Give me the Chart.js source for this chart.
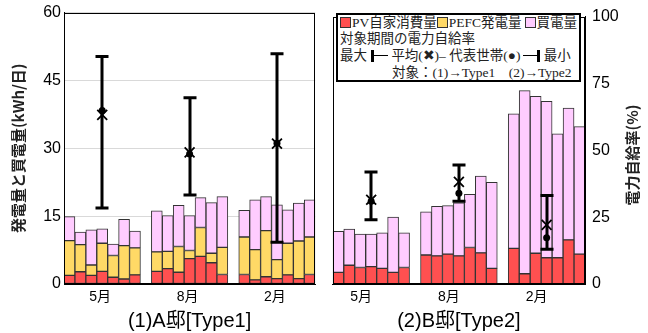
<!DOCTYPE html>
<html>
<head>
<meta charset="utf-8">
<script src="https://cdn.jsdelivr.net/npm/chart.js@4.4.1/dist/chart.umd.min.js"></script>
<style>
  html, body { margin: 0; padding: 0; background: #fff; }
  #wrap { position: relative; width: 648px; height: 333px; overflow: hidden; }
  .panel { position: absolute; top: 0; width: 324px; height: 333px; }
  #legend {
    position: absolute; left: 336px; top: 13px; width: 245px; height: 69px;
    box-sizing: border-box; border: 2px solid #000; background: #fff;
    font: 13.5px 'Liberation Serif', 'Noto Sans CJK JP', serif; color: #222;
    line-height: 16.2px; padding: 0 0 0 2px; white-space: nowrap;
  }
  #legend .sw { display: inline-block; width: 9px; height: 9px; border: 1px solid #333;
    vertical-align: -1px; margin-right: 1px; }
  #legend .cap { display: inline-block; width: 3px; height: 12px; background: #000; vertical-align: -2px; margin-left: 4px; }
  #legend .dash { display: inline-block; height: 1.5px; background: #000; vertical-align: 4px; }
  #legend .x { font-family: 'DejaVu Sans', sans-serif; font-size: 14px; }
</style>
</head>
<body>
<div id="wrap">
  <div class="panel" style="left:0"><canvas id="chartA" width="324" height="333"></canvas></div>
  <div class="panel" style="left:324px"><canvas id="chartB" width="324" height="333"></canvas></div>
  <div id="legend">
    <div><span class="sw" style="background:#FF5050"></span>PV自家消費量<span class="sw" style="background:#FFD966"></span>PEFC発電量<span class="sw" style="background:#FFCCFF;margin-left:3px"></span>買電量</div>
    <div>対象期間の電力自給率</div>
    <div>最大<span class="cap"></span><span class="dash" style="width:14px"></span> 平均(<b class="x">✖</b>)– 代表世帯(●)<span class="dash" style="width:14px;margin-left:3px"></span><span class="cap" style="margin-left:0"></span> 最小</div>
    <div style="padding-left:52px">対象：(1)→Type1　(2)→Type2</div>
  </div>
</div>
<script>
// Months shown on the x axis; each month holds 7 households
const months = ['5月', '8月', '2月'];
const householdsPerMonth = 7;

// (1) House A [Type1] — daily energy, kWh/day
const aPV   = [1.9, 2.7, 1.9, 2.8, 1.5, 1.1, 2.0,  2.8, 3.4, 2.6, 5.6, 6.1, 4.7, 2.1,  2.1, 0.9, 1.6, 1.2, 2.0, 1.2, 2.1];
const aPEFC = [7.7, 6.0, 2.3, 6.2, 4.8, 7.4, 6.0,  4.3, 3.8, 5.7, 1.8, 6.4, 2.1, 6.0,  8.3, 6.7, 10.2, 4.2, 7.0, 8.3, 8.3];
const aBuy  = [5.3, 2.8, 7.8, 3.2, 2.5, 5.8, 3.7,  9.1, 7.9, 9.1, 7.7, 6.6, 11.2, 11.2,  5.9, 11.0, 7.5, 12.1, 7.4, 8.4, 8.2];

// (2) House B [Type2] — daily energy, kWh/day
const bPV  = [2.6, 4.2, 3.7, 3.9, 3.5, 2.6, 3.7,  6.5, 6.3, 6.7, 6.3, 8.2, 7.0, 3.5,  8.0, 2.3, 6.9, 5.9, 5.9, 9.9, 6.7];
const bBuy = [9.2, 8.1, 7.5, 7.3, 8.0, 12.4, 7.8,  9.7, 11.1, 10.9, 11.9, 11.9, 17.2, 19.3,  30.2, 41.1, 35.2, 35.1, 27.8, 29.6, 28.6];

// Self-sufficiency rate (%) per month: max / mean / representative household / min
const aRateMax  = [83.8, 68.6, 84.8];
const aRateMean = [62.3, 48.5, 51.7];
const aRateRep  = [63.9, 47.9, 51.9];
const aRateMin  = [28.0, 32.8, 15.4];
const bRateMax  = [41.9, 44.5, 33.1];
const bRateMean = [31.5, 38.2, 22.1];
const bRateRep  = [30.9, 33.9, 17.3];
const bRateMin  = [24.0, 30.9, 13.0];

// Axis ticks
const kwhTicks  = [0, 15, 30, 45, 60];
const rateTicks = [0, 25, 50, 75, 100];

const COLOR_PV = '#FF5050', COLOR_PEFC = '#FFD966', COLOR_BUY = '#FFCCFF';
const NUM_FONT = "'Liberation Sans Narrow', 'Liberation Sans', sans-serif";
const JP_FONT = "'Noto Sans CJK JP', sans-serif";

// Category slots: 7 households per month, one empty slot between months
const slotLabels = [];
const centerIdx = [];
months.forEach((m, g) => {
  for (let h = 0; h < householdsPerMonth; h++) {
    if (h === 3) { centerIdx.push(slotLabels.length); slotLabels.push(m); }
    else slotLabels.push('');
  }
  if (g < months.length - 1) slotLabels.push('');
});
function toSlots(vals) {
  const out = [];
  months.forEach((m, g) => {
    for (let h = 0; h < householdsPerMonth; h++) out.push(vals[g * householdsPerMonth + h]);
    if (g < months.length - 1) out.push(null);
  });
  return out;
}
function atCenters(vals) {
  const out = slotLabels.map(() => null);
  centerIdx.forEach((i, g) => { out[i] = vals[g]; });
  return out;
}

// Whiskers (max–min) drawn over the bars, under the markers
function rangePlugin(maxArr, minArr) {
  return {
    id: 'rateRange',
    beforeDatasetsDraw(chart) { chart.$rangeDone = false; },
    beforeDatasetDraw(chart, args) {
      if (chart.$rangeDone || args.meta.type !== 'line') return;
      chart.$rangeDone = true;
      const xs = chart.scales.x, rs = chart.scales.rate, ctx = chart.ctx;
      ctx.save();
      ctx.strokeStyle = '#000';
      ctx.lineWidth = 3;
      centerIdx.forEach((idx, g) => {
        const px = Math.round(xs.getPixelForValue(idx));
        const yTop = rs.getPixelForValue(maxArr[g]);
        const yBot = rs.getPixelForValue(minArr[g]);
        ctx.beginPath();
        ctx.moveTo(px, yTop); ctx.lineTo(px, yBot);
        ctx.moveTo(px - 6.5, yTop); ctx.lineTo(px + 6.5, yTop);
        ctx.moveTo(px - 6.5, yBot); ctx.lineTo(px + 6.5, yBot);
        ctx.stroke();
      });
      ctx.restore();
    }
  };
}

// Box around the plot area
const framePlugin = {
  id: 'frame',
  afterDraw(chart) {
    const a = chart.chartArea, ctx = chart.ctx;
    ctx.save();
    ctx.strokeStyle = '#000';
    ctx.lineWidth = 1;
    ctx.strokeRect(Math.round(a.left) + 0.5, Math.round(a.top) + 0.5,
                   Math.round(a.right - a.left) - 1, Math.round(a.bottom - a.top) - 1);
    ctx.restore();
  }
};

// Right-hand axis title, reading bottom to top
const rateTitlePlugin = {
  id: 'rateTitle',
  afterDraw(chart) {
    const ctx = chart.ctx;
    ctx.save();
    ctx.translate(308, 155);
    ctx.rotate(-Math.PI / 2);
    ctx.font = 'bold 15px ' + JP_FONT;
    ctx.fillStyle = '#222';
    ctx.textAlign = 'center';
    ctx.textBaseline = 'middle';
    ctx.fillText('電力自給率(%)', 0, 0);
    ctx.restore();
  }
};

function barSet(label, data, color) {
  return { type: 'bar', label, data: toSlots(data), backgroundColor: color,
           borderColor: '#333', borderWidth: 1, borderSkipped: false,
           barPercentage: 1, categoryPercentage: 1, yAxisID: 'y', order: 2 };
}
function markerSets(meanArr, repArr) {
  return [
    { type: 'line', label: '平均', data: atCenters(meanArr), showLine: false, yAxisID: 'rate',
      pointStyle: 'crossRot', pointRadius: 7, borderColor: '#000', borderWidth: 1.8,
      backgroundColor: '#000', order: 1 },
    { type: 'line', label: '代表世帯', data: atCenters(repArr), showLine: false, yAxisID: 'rate',
      pointStyle: 'circle', pointRadius: 3.5, borderColor: '#000', borderWidth: 0,
      backgroundColor: '#000', order: 1 }
  ];
}

function xScale(title, offset) {
  return {
    type: 'category', labels: slotLabels, offset: true, stacked: true,
    grid: { display: false, drawTicks: false },
    border: { display: true, color: '#000' },
    ticks: { autoSkip: false, maxRotation: 0, padding: 5, color: '#000', labelOffset: offset,
             font: { family: "'Liberation Sans', 'Noto Sans CJK JP'", size: 14 } },
    title: { display: true, text: title, color: '#000', padding: { top: 0, bottom: 0 },
             font: { family: "'Liberation Sans', 'Noto Sans CJK JP'", size: 20 } },
    afterFit(s) { s.height = 49; }
  };
}

const common = {
  responsive: false,
  animation: false,
  events: [],
  plugins: { legend: { display: false }, tooltip: { enabled: false } }
};

new Chart(document.getElementById('chartA'), {
  data: {
    labels: slotLabels,
    datasets: [
      barSet('PV自家消費量', aPV, COLOR_PV),
      barSet('PEFC発電量', aPEFC, COLOR_PEFC),
      barSet('買電量', aBuy, COLOR_BUY),
      ...markerSets(aRateMean, aRateRep)
    ]
  },
  options: {
    ...common,
    layout: { padding: { top: 9, right: 6, left: 0, bottom: 0 } },
    scales: {
      x: xScale('(1)A邸[Type1]', -2),
      y: {
        position: 'left', stacked: true, min: 0, max: 60,
        afterBuildTicks(s) { s.ticks = kwhTicks.map(v => ({ value: v })); },
        grid: { color: '#d9d9d9', drawTicks: false },
        border: { display: true, color: '#000' },
        ticks: { padding: 3, color: '#000', font: { family: NUM_FONT, size: 16 } },
        title: { display: true, text: '発電量と買電量(kWh/日)', color: '#222',
                 padding: { top: 9, bottom: 0 }, font: { family: JP_FONT, size: 15, weight: 'bold' } },
        afterFit(s) { s.width = 64; }
      },
      rate: { axis: 'y', position: 'right', display: false, min: 0, max: 100 }
    }
  },
  plugins: [rangePlugin(aRateMax, aRateMin), framePlugin]
});

new Chart(document.getElementById('chartB'), {
  data: {
    labels: slotLabels,
    datasets: [
      barSet('PV自家消費量', bPV, COLOR_PV),
      barSet('買電量', bBuy, COLOR_BUY),
      ...markerSets(bRateMean, bRateRep)
    ]
  },
  options: {
    ...common,
    layout: { padding: { top: 9, right: 0, left: 6, bottom: 0 } },
    scales: {
      x: xScale('(2)B邸[Type2]', -10),
      y: { display: false, stacked: true, min: 0, max: 60 },
      rate: {
        axis: 'y', position: 'right', min: 0, max: 100,
        afterBuildTicks(s) { s.ticks = rateTicks.map(v => ({ value: v })); },
        grid: { display: false, drawTicks: false },
        border: { display: true, color: '#000' },
        ticks: { padding: 7, color: '#000', font: { family: NUM_FONT, size: 16 } },
        afterFit(s) { s.width = 63; }
      }
    }
  },
  plugins: [rangePlugin(bRateMax, bRateMin), framePlugin, rateTitlePlugin]
});
</script>
</body>
</html>
